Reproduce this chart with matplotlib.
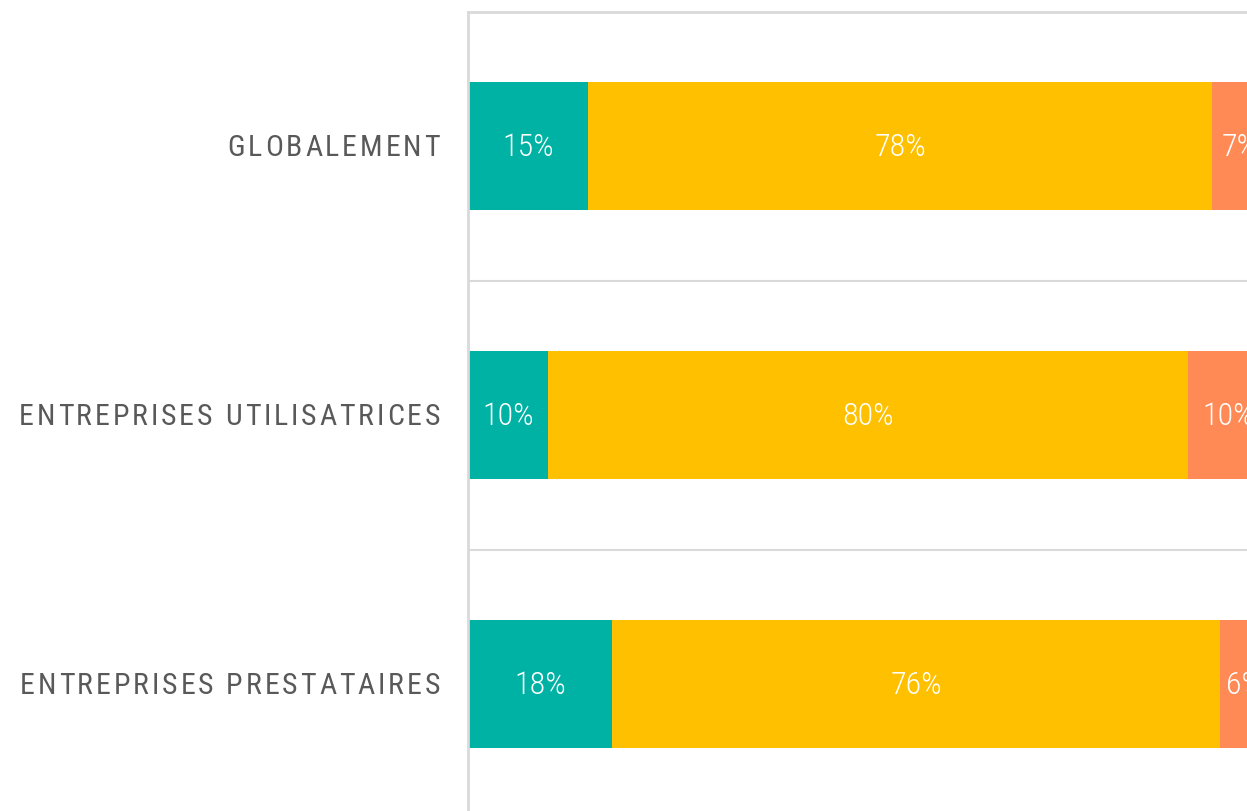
import matplotlib.pyplot as plt
from matplotlib.font_manager import FontProperties
import matplotlib.transforms as mtransforms

TEAL = "#00b2a4"
YELLOW = "#ffc000"
ORANGE = "#ff8a56"
GRID = "#d9d9d9"
LABEL = "#595959"

categories = ["GLOBALEMENT", "ENTREPRISES UTILISATRICES", "ENTREPRISES PRESTATAIRES"]
part_a = [15, 10, 18]
part_b = [78, 80, 76]
part_c = [7, 10, 6]

W, H, DPI = 1247, 811, 100
fig = plt.figure(figsize=(W / DPI, H / DPI), dpi=DPI)
# plot area runs past the right edge of the canvas
ax = fig.add_axes([468 / W, -7.5 / H, 800 / W, 807 / H])

y = list(range(len(categories)))
h = 0.476
ax.barh(y, part_a, h, color=TEAL, linewidth=0)
ax.barh(y, part_b, h, left=part_a, color=YELLOW, linewidth=0)
left_c = [a + b for a, b in zip(part_a, part_b)]
ax.barh(y, part_c, h, left=left_c, color=ORANGE, linewidth=0)

fp = FontProperties(family="Roboto Condensed", size=23, weight="light")
for yi, a, b, c, lc in zip(y, part_a, part_b, part_c, left_c):
    for left, v in ((0, a), (a, b), (lc, c)):
        ax.text(left + v / 2, yi + 0.004, f"{v}%", ha="center", va="center",
                color="white", fontproperties=fp, clip_on=False)

ax.set_xlim(0, 100)
ax.set_ylim(len(categories) - 0.5, -0.5)
for yl in [0.5, 1.5]:
    ax.axhline(yl, color=GRID, lw=1.5, zorder=0)
for sp in ("right", "bottom"):
    ax.spines[sp].set_visible(False)
for sp in ("top", "left"):
    ax.spines[sp].set_color(GRID)
    ax.spines[sp].set_linewidth(2)
ax.set_xticks([])
ax.set_yticks([])

# category labels with widened letter spacing, right-aligned at the axis
lab_fp = FontProperties(family="Roboto Condensed", size=21.5)
renderer = fig.canvas.get_renderer()
track = 2.9  # extra px between letters


def text_w(s):
    w, _, _ = renderer.get_text_width_height_descent(s + "|", lab_fp, ismath=False)
    w0, _, _ = renderer.get_text_width_height_descent("|", lab_fp, ismath=False)
    return w - w0


right_px = 440
tr = mtransforms.blended_transform_factory(mtransforms.IdentityTransform(), ax.transData)
for yi, name in zip(y, categories):
    total = text_w(name) + track * (len(name) - 1)
    start = right_px - total
    for i, ch in enumerate(name):
        if ch == " ":
            continue
        xoff = start + text_w(name[:i]) + track * i
        ax.text(xoff, yi + 0.008, ch, transform=tr, ha="left", va="center",
                color=LABEL, fontproperties=lab_fp, clip_on=False)

fig.savefig("out.png", dpi=DPI, facecolor="white")
